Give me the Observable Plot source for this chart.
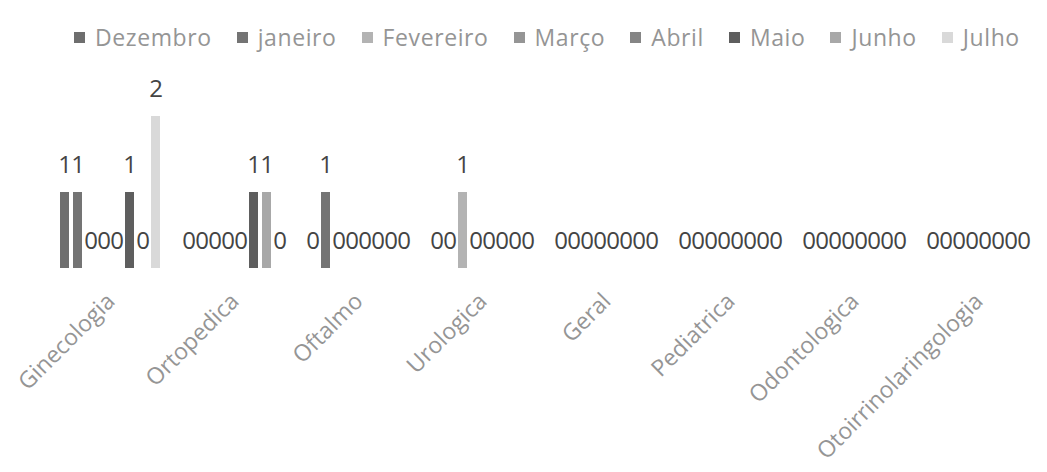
<!DOCTYPE html>
<html>
<head>
<meta charset="utf-8">
<script src="https://cdn.jsdelivr.net/npm/d3@7"></script>
<script src="https://cdn.jsdelivr.net/npm/@observablehq/plot@0.6"></script>
<style>
  body { margin: 0; background: #fff; font-family: "Open Sans", sans-serif; }
  #legend { height: 60px; display: flex; align-items: center; padding-left: 74px; padding-top: 14px; box-sizing: border-box; gap: 25px; }
  .item { display: flex; align-items: center; font-size: 23px; color: #959595; letter-spacing: 0.6px; }
  .sw { width: 11px; height: 11px; margin-right: 10px; }
</style>
</head>
<body>
<div id="legend"></div>
<div id="chart"></div>
<script>
const categories = ["Ginecologia", "Ortopedica", "Oftalmo", "Urologica", "Geral", "Pediatrica", "Odontologica", "Otoirrinolaringologia"];
const months = ["Dezembro", "janeiro", "Fevereiro", "Março", "Abril", "Maio", "Junho", "Julho"];
const colors = ["#6e6e6e", "#747474", "#b3b3b3", "#959595", "#858585", "#5e5e5e", "#a8a8a8", "#d9d9d9"];

const dezembro  = [1, 0, 0, 0, 0, 0, 0, 0];
const janeiro   = [1, 0, 1, 0, 0, 0, 0, 0];
const fevereiro = [0, 0, 0, 1, 0, 0, 0, 0];
const marco     = [0, 0, 0, 0, 0, 0, 0, 0];
const abril     = [0, 0, 0, 0, 0, 0, 0, 0];
const maio      = [1, 1, 0, 0, 0, 0, 0, 0];
const junho     = [0, 1, 0, 0, 0, 0, 0, 0];
const julho     = [2, 0, 0, 0, 0, 0, 0, 0];

const series = [dezembro, janeiro, fevereiro, marco, abril, maio, junho, julho];
const data = [];
categories.forEach((c, i) => months.forEach((m, j) => data.push({cat: c, month: m, value: series[j][i]})));

const legend = document.getElementById("legend");
months.forEach((m, j) => {
  const it = document.createElement("div");
  it.className = "item";
  it.innerHTML = `<span class="sw" style="background:${colors[j]}"></span><span>${m}</span>`;
  legend.appendChild(it);
});

const chart = Plot.plot({
  width: 1047,
  height: 412,
  marginLeft: 46,
  marginRight: 4,
  marginTop: 56,
  marginBottom: 204,
  style: {fontFamily: "Open Sans, sans-serif", background: "#fff"},
  fx: {domain: categories, paddingInner: 0.12, paddingOuter: 0.06, axis: null, label: null},
  x: {domain: months, paddingInner: 0.3, paddingOuter: 0.12, axis: null},
  y: {domain: [0, 2], axis: null},
  color: {domain: months, range: colors},
  marks: [
    Plot.barY(data, {fx: "cat", x: "month", y: "value", fill: "month"}),
    Plot.text(data, {fx: "cat", x: "month", y: "value", text: d => String(d.value), dy: -27, fontSize: 24, fill: "#444"}),
    Plot.axisFx({anchor: "bottom", tickRotate: -45, tickSize: 0, tickPadding: 29, fontSize: 23, fill: "#959595", label: null})
  ]
});
document.getElementById("chart").appendChild(chart);
</script>
</body>
</html>
